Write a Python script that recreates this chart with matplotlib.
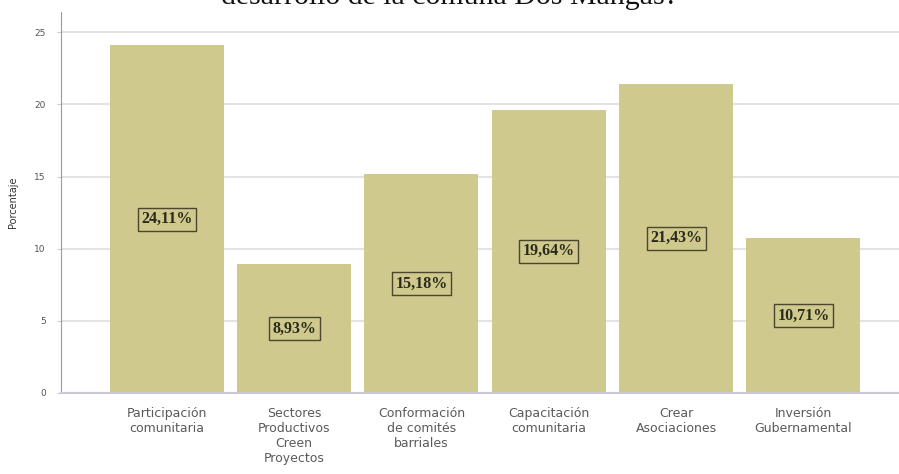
import numpy as np
import matplotlib
matplotlib.use('Agg')
import matplotlib.pyplot as plt

# Data
categorias = ['Participación\ncomunitaria', 'Sectores\nProductivos\nCreen\nProyectos',
              'Conformación\nde comités\nbarriales', 'Capacitación\ncomunitaria',
              'Crear\nAsociaciones', 'Inversión\nGubernamental']
porcentajes = [24.11, 8.93, 15.18, 19.64, 21.43, 10.71]
etiquetas = ['24,11%', '8,93%', '15,18%', '19,64%', '21,43%', '10,71%']
yticks = [0, 5, 10, 15, 20, 25]

fig = plt.figure(figsize=(8.99, 4.74), dpi=100, facecolor='white')
ax = fig.add_axes([61 / 899, 81 / 474, 1 - 61 / 899, (393 - 12) / 474])

x = np.arange(len(categorias))
ax.bar(x, porcentajes, width=0.895, color='#cfc98d', edgecolor='none', zorder=2)

# Value labels in boxes at half bar height
for xi, val, lab in zip(x, porcentajes, etiquetas):
    ax.text(xi, val / 2, lab, ha='center', va='center', fontsize=11.5,
            family='Liberation Serif', fontweight='bold', color='#2a2a1a', zorder=3,
            bbox=dict(boxstyle='square,pad=0.22', facecolor='none',
                      edgecolor='#4a4630', linewidth=1.0))

ax.set_xlim(-0.83, 5.75)
ax.set_ylim(0, 26.4)
ax.set_yticks(yticks)
ax.set_xticks(x)
ax.set_xticklabels(categorias, fontsize=9, color='#5a5a5a', linespacing=1.2)
ax.tick_params(axis='y', labelsize=6.5, labelcolor='#555555', length=3, color='#cccccc', pad=8)
ax.tick_params(axis='x', length=0, pad=10)

ax.yaxis.grid(True, color='#e3e3e3', linewidth=1.5, zorder=0)
ax.set_axisbelow(True)

for side in ['top', 'right']:
    ax.spines[side].set_visible(False)
ax.spines['left'].set_color('#999999')
ax.spines['bottom'].set_color('#c8c8d8')
ax.spines['bottom'].set_linewidth(1.5)

ax.set_ylabel('Porcentaje', fontsize=7, color='#333333', labelpad=12)

# Title cropped at the top of the image, as in the source
fig.text(0.5, 1 - 4.5 / 474, 'desarrollo de la comuna Dos Mangas?', ha='center', va='baseline',
         fontsize=21.5, family='Liberation Serif', color='#111111')

plt.savefig('out.png', dpi=100, facecolor='white')
